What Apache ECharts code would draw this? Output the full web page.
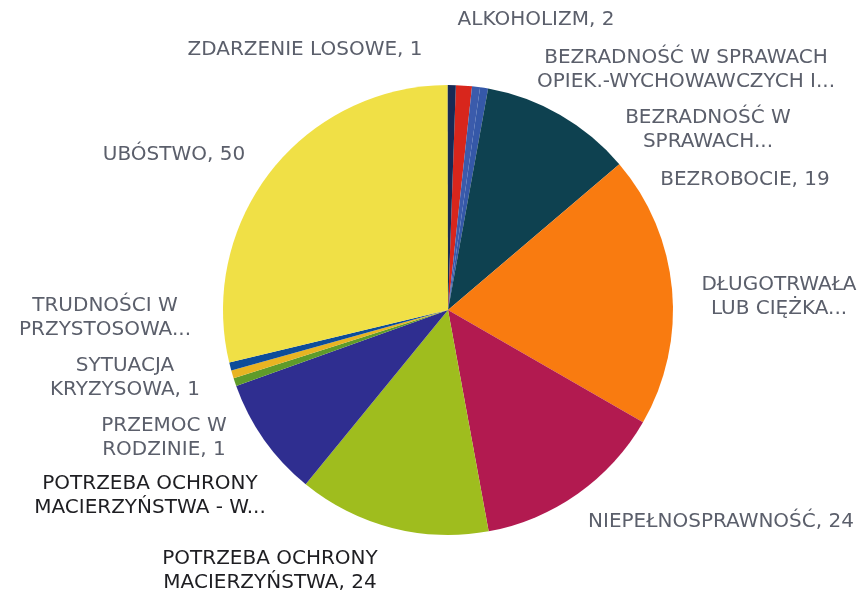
<!DOCTYPE html>
<html>
<head>
<meta charset="utf-8">
<script src="https://cdn.jsdelivr.net/npm/echarts@6/dist/echarts.min.js"></script>
<style>
  html, body { margin: 0; padding: 0; background: #fff; }
  #chart { width: 866px; height: 591px; }
</style>
</head>
<body>
<div id="chart"></div>
<script>
// kategorie (kolejnosc jak w arkuszu, zgodnie z ruchem wskazowek)
const categories = [
  'ALKOHOLIZM',
  'BEZRADNOŚĆ W SPRAWACH\nOPIEK.-WYCHOWAWCZYCH I...',
  'BEZRADNOŚĆ W\nSPRAWACH...',
  'BEZROBOCIE',
  'DŁUGOTRWAŁA\nLUB CIĘŻKA...',
  'NIEPEŁNOSPRAWNOŚĆ',
  'POTRZEBA OCHRONY\nMACIERZYŃSTWA',
  'POTRZEBA OCHRONY\nMACIERZYŃSTWA - W...',
  'PRZEMOC W\nRODZINIE',
  'SYTUACJA\nKRYZYSOWA',
  'TRUDNOŚCI W\nPRZYSTOSOWA...',
  'UBÓSTWO',
  'ZDARZENIE LOSOWE'
];
const values = [2, 1, 1, 19, 34, 24, 24, 15, 1, 1, 1, 50, 1];
const colors = ['#d8261c', '#3b5bab', '#3558a8', '#0e4150', '#f97b10', '#b21a50',
  '#9fbd1e', '#2f2e90', '#5f9b2a', '#e8b422', '#0d4d9a', '#f0e046', '#172a55'];

// pozycje etykiet (srodek bloku tekstu)
const labelPos = [
  [536, 20], [686, 70], [708, 130], [745, 180], [779, 297], [721, 522],
  [270, 571], [150, 496], [164, 438], [125, 378], [105, 318], [174, 155], [305, 50]
];
const darkLabels = [6, 7];

const chart = echarts.init(document.getElementById('chart'));

chart.setOption({
  backgroundColor: '#ffffff',
  animation: false,
  series: [{
    type: 'pie',
    center: [448, 310],
    radius: 225,
    startAngle: 88,
    clockwise: true,
    avoidLabelOverlap: false,
    data: categories.map((name, i) => ({
      name: name,
      value: values[i],
      itemStyle: { color: colors[i] },
      label: { color: darkLabels.includes(i) ? '#1e1e22' : '#5b5f6b' }
    })),
    itemStyle: { borderWidth: 0 },
    label: {
      show: true,
      position: 'outside',
      fontFamily: 'DejaVu Sans',
      fontSize: 20,
      lineHeight: 24,
      align: 'center',
      formatter: (p) => p.name.endsWith('...') ? p.name : p.name + ', ' + p.value
    },
    labelLine: { show: false },
    labelLayout: (p) => ({
      x: labelPos[p.dataIndex][0],
      y: labelPos[p.dataIndex][1],
      align: 'center',
      verticalAlign: 'middle'
    })
  }]
});
</script>
</body>
</html>
